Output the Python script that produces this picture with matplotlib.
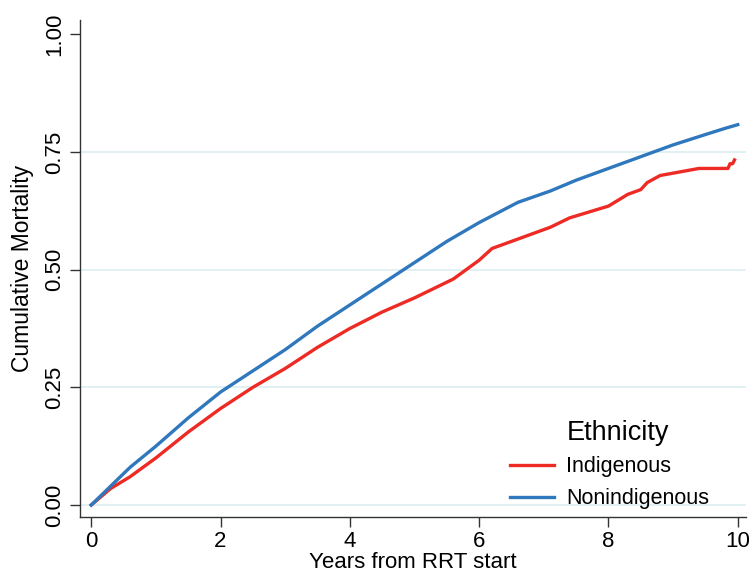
import matplotlib
matplotlib.use("Agg")
import matplotlib.pyplot as plt

plt.rcParams['font.family'] = ['Liberation Sans', 'DejaVu Sans']

# Nonindigenous (blue) cumulative mortality
years_non = [0, 0.3, 0.6, 1.0, 1.5, 2.0, 2.5, 3.0, 3.5, 4.0, 4.5, 5.0, 5.5,
             6.0, 6.6, 7.1, 7.5, 8.0, 8.3, 8.6, 9.0, 9.5, 9.8, 10.0]
mort_non = [0, 0.04, 0.08, 0.125, 0.185, 0.24, 0.285, 0.33, 0.38, 0.425,
            0.47, 0.515, 0.56, 0.60, 0.643, 0.667, 0.69, 0.715, 0.73, 0.745,
            0.765, 0.787, 0.800, 0.808]

# Indigenous (red) cumulative mortality
years_ind = [0, 0.3, 0.6, 1.0, 1.5, 2.0, 2.5, 3.0, 3.5, 4.0, 4.5, 5.0, 5.3,
             5.6, 5.8, 6.0, 6.2, 6.6, 7.1, 7.4, 8.0, 8.3, 8.5, 8.6, 8.8,
             9.0, 9.4, 9.85, 9.88, 9.92, 9.95]
mort_ind = [0, 0.035, 0.06, 0.10, 0.155, 0.205, 0.25, 0.29, 0.335, 0.375,
            0.41, 0.44, 0.46, 0.48, 0.50, 0.52, 0.545, 0.565, 0.59, 0.61,
            0.635, 0.66, 0.67, 0.685, 0.70, 0.705, 0.715, 0.715, 0.725, 0.725,
            0.733]

yticks = [0, 0.25, 0.5, 0.75, 1.0]
ytick_labels = ['0.00', '0.25', '0.50', '0.75', '1.00']
xticks = [0, 2, 4, 6, 8, 10]

fig = plt.figure(figsize=(7.5, 5.76), dpi=100)
ax = fig.add_axes([0.107, 0.102, 0.887, 0.863])

for y in yticks[:-1]:
    ax.axhline(y, color='#dceef0', lw=1.2, zorder=0)

ax.plot(years_ind, mort_ind, color='#ee2a24', lw=2.4, label='Indigenous')
ax.plot(years_non, mort_non, color='#2f78bd', lw=2.4, label='Nonindigenous')

ax.set_xlim(-0.17, 10.12)
ax.set_ylim(-0.026, 1.03)
ax.set_xticks(xticks)
ax.set_xticklabels([str(x) for x in xticks], fontsize=16)
ax.set_yticks(yticks)
ax.set_yticklabels(ytick_labels, fontsize=16, rotation=90, va='center')

for s in ['top', 'right']:
    ax.spines[s].set_visible(False)
for s in ['left', 'bottom']:
    ax.spines[s].set_color('#333333')
    ax.spines[s].set_linewidth(1.0)
ax.tick_params(axis='both', direction='out', length=7, width=1.0, color='#333333', pad=4)
ax.tick_params(axis='x', pad=3)

ax.set_xlabel('Years from RRT start', fontsize=16, labelpad=0)
ax.set_ylabel('Cumulative Mortality', fontsize=16.5, labelpad=7)

leg = ax.legend(loc='upper left', bbox_to_anchor=(504 / 750, 1 - 450 / 576),
                bbox_transform=fig.transFigure,
                frameon=False, fontsize=15.5,
                handlelength=2.0, handletextpad=0.6, labelspacing=0.5,
                borderaxespad=0.0, borderpad=0.3)
fig.text(567 / 750, 1 - 433 / 576, 'Ethnicity', fontsize=19.5,
         ha='left', va='center')

fig.savefig('out.png', dpi=100)
